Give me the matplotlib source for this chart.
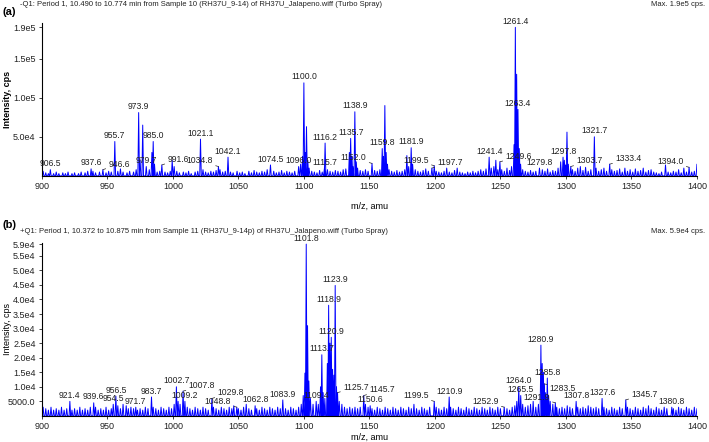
import numpy as np
import matplotlib
matplotlib.use("Agg")
import matplotlib.pyplot as plt

plt.rcParams['font.family'] = ['Liberation Sans Narrow', 'Liberation Sans', 'DejaVu Sans']

# ---- panel (a) ----
header_a = "-Q1: Period 1, 10.490 to 10.774 min from Sample 10 (RH37U_9-14) of RH37U_Jalapeno.wiff (Turbo Spray)"
max_a = "Max. 1.9e5 cps."
# peak m/z and intensity (x1000 cps)
mz_a = [901, 903, 905, 906.5, 909, 911, 913, 916, 918, 920, 923, 925, 928, 930, 933, 935,
        937.6, 939, 941, 944, 946.6, 949, 951, 953, 955.7, 958, 960, 962, 965, 967, 970, 972,
        973.9, 975, 977, 979.7, 982, 984, 985.0, 986, 988, 990, 991.6, 994, 996, 998, 999.5,
        1001, 1003, 1005, 1008, 1010, 1012, 1014, 1017, 1019, 1021.1, 1023, 1025, 1027, 1029,
        1031, 1033, 1034.8, 1036, 1038, 1040, 1042.1, 1044, 1046, 1049, 1051, 1053, 1055, 1058,
        1060, 1062, 1064, 1066, 1068, 1070, 1072, 1074.5, 1077, 1079, 1081, 1083, 1085, 1087,
        1089, 1091, 1093, 1096.0, 1097.5, 1099, 1100.0, 1101, 1102, 1103, 1104, 1106, 1108, 1110,
        1112, 1114, 1115.7, 1116.2, 1118, 1120, 1122, 1124, 1126, 1128, 1130, 1132, 1134.7,
        1135.7, 1136.7, 1137.5, 1138.9, 1140, 1141, 1143, 1145, 1147, 1149, 1152.0, 1154, 1156,
        1158, 1159.8, 1160.8, 1161.8, 1162.8, 1163.8, 1165, 1167, 1169, 1171, 1173, 1175, 1177,
        1178.6, 1180, 1181.9, 1183, 1185, 1187, 1189, 1191, 1193, 1195, 1197.7, 1199.5, 1201,
        1203, 1205, 1207, 1209, 1211, 1213, 1215, 1217, 1219, 1221, 1223, 1225, 1227, 1229, 1231,
        1233, 1235, 1237, 1239, 1241.4, 1243, 1245, 1246.5, 1248, 1249.6, 1251, 1253, 1255, 1257,
        1258.5, 1260.4, 1261.4, 1262.4, 1263.4, 1264.4, 1265.4, 1267, 1269, 1271, 1273, 1275,
        1277, 1279.8, 1282, 1284, 1286, 1288, 1290, 1292, 1294, 1296, 1297.8, 1298.8, 1299.8,
        1300.8, 1301.8, 1303.7, 1305, 1307, 1309, 1311, 1313, 1315, 1317, 1319, 1321.7, 1323,
        1325, 1327, 1329, 1331, 1333.4, 1335, 1337, 1339, 1341, 1343, 1345, 1347, 1349, 1351,
        1353, 1355, 1357, 1359, 1361, 1363, 1365, 1367, 1369, 1371, 1373, 1376, 1378, 1380, 1382,
        1384, 1386, 1388, 1390, 1392, 1394.0, 1396, 1398, 1400]
int_a = [6, 4, 3, 8, 3, 5, 3, 4, 3, 5, 3, 4, 3, 5, 4, 6,
         9, 6, 4, 5, 8, 4, 6, 5, 44, 6, 9, 5, 4, 6, 5, 8,
         81, 20, 65, 12, 8, 30, 44, 15, 5, 6, 14, 5, 4, 6, 20,
         12, 6, 4, 5, 4, 6, 3, 5, 6, 47, 8, 5, 4, 6,
         5, 7, 12, 8, 5, 6, 24, 5, 4, 6, 4, 5, 3, 6,
         4, 7, 5, 4, 6, 5, 8, 14, 6, 4, 5, 7, 4, 6,
         5, 4, 6, 12, 15, 25, 119, 30, 63, 20, 10, 6, 5, 4,
         7, 5, 10, 42, 8, 6, 5, 7, 6, 5, 8, 9, 30,
         48, 25, 12, 82, 18, 10, 7, 6, 8, 6, 16, 7, 6,
         8, 35, 25, 90, 30, 15, 8, 6, 5, 7, 5, 6, 8,
         26, 12, 36, 15, 8, 6, 5, 7, 9, 6, 10, 13, 6,
         5, 4, 6, 10, 5, 4, 7, 10, 5, 4, 3, 5, 4, 6, 4,
         6, 8, 6, 9, 24, 10, 12, 20, 8, 18, 8, 6, 10, 7,
         12, 40, 190, 130, 85, 35, 15, 8, 6, 5, 7, 5,
         6, 10, 8, 6, 9, 5, 7, 6, 10, 18, 24, 20, 14,
         56, 15, 12, 8, 6, 10, 12, 7, 11, 6, 8, 50, 10,
         6, 8, 10, 6, 15, 8, 6, 7, 9, 5, 10, 6, 8, 5,
         9, 6, 7, 10, 5, 7, 8, 5, 4, 3, 5, 14, 5, 4, 6,
         5, 8, 4, 10, 5, 11, 5, 6, 15]
labels_a = [906.5, 937.6, 946.6, 955.7, 973.9, 979.7, 985.0, 991.6, 1021.1, 1034.8, 1042.1,
            1074.5, 1096.0, 1100.0, 1115.7, 1116.2, 1135.7, 1138.9, 1152.0, 1159.8, 1181.9,
            1197.7, 1199.5, 1241.4, 1249.6, 1261.4, 1263.4, 1279.8, 1297.8, 1303.7, 1321.7,
            1333.4, 1394.0]
conn_a = {946.6: 'r', 991.6: 'r', 1034.8: 'l', 1152.0: 'l', 1197.7: 'r', 1199.5: 'l',
          1249.6: 'r', 1303.7: 'r', 1333.4: 'r', 1394.0: 'l'}
yticks_a = [5.0e4, 1.0e5, 1.5e5, 1.9e5]
yticklabels_a = ['5.0e4', '1.0e5', '1.5e5', '1.9e5']

# ---- panel (b) ----
header_b = "+Q1: Period 1, 10.372 to 10.875 min from Sample 11 (RH37U_9-14p) of RH37U_Jalapeno.wiff (Turbo Spray)"
max_b = "Max. 5.9e4 cps."
mz_b = [901, 903, 905, 907, 909, 911, 913, 915, 917, 919, 921.4, 923, 925, 927, 929, 931, 933,
        935, 937, 939.6, 941, 943, 945, 947, 949, 951, 953, 954.5, 956.5, 958, 960, 962, 964.4,
        966, 968, 970, 971.7, 973, 975, 977, 979, 981, 983.7, 985, 987, 989, 991, 993, 995, 997,
        999, 1001, 1002.7, 1004, 1005.5, 1007.8, 1009.2, 1011, 1013, 1015, 1017, 1019, 1021, 1023,
        1025, 1027, 1029.8, 1031, 1033, 1035, 1037, 1039, 1041, 1043, 1045, 1046.5, 1048.8, 1050,
        1052, 1054, 1056, 1058, 1060, 1062.8, 1064, 1066, 1068, 1070, 1072, 1074, 1076, 1078,
        1080, 1082, 1083.9, 1086, 1088, 1090, 1092, 1094, 1096, 1098, 1099.5, 1100.8, 1101.8,
        1102.8, 1103.8, 1105, 1107, 1109.4, 1111, 1112.7, 1113.7, 1114.7, 1116, 1117.9, 1118.9,
        1119.9, 1120.9, 1121.9, 1122.9, 1123.9, 1124.9, 1125.7, 1127, 1129, 1131, 1133, 1135,
        1137, 1139, 1141, 1143, 1145.7, 1147, 1149, 1150.6, 1152, 1154, 1156, 1158, 1160, 1162,
        1164, 1166, 1168, 1170, 1172, 1174, 1176, 1178, 1180, 1182, 1184, 1186, 1188, 1190, 1192,
        1194, 1196, 1199.5, 1201, 1203, 1205, 1207, 1209, 1210.9, 1212, 1214, 1216, 1218, 1220,
        1222, 1224, 1226, 1228, 1230, 1232, 1234, 1236, 1238, 1240, 1242, 1244, 1246, 1248, 1250,
        1252.9, 1255, 1257, 1259, 1261, 1262.5, 1264.0, 1265.5, 1267, 1269, 1271, 1273, 1275,
        1277, 1279, 1280.9, 1281.9, 1282.8, 1283.5, 1284.5, 1285.8, 1286.8, 1288, 1290, 1291.9,
        1293, 1295, 1297, 1299, 1301, 1303, 1305, 1307.8, 1309, 1311, 1313, 1315, 1317, 1319,
        1321, 1323, 1325, 1327.6, 1329, 1331, 1333, 1335, 1337, 1339, 1341, 1343, 1345.7, 1347,
        1349, 1351, 1353, 1355, 1357, 1359, 1361, 1363, 1365, 1367, 1369, 1371, 1373, 1375, 1377,
        1380.8, 1382, 1384, 1386, 1388, 1390, 1392, 1394, 1396, 1398, 1400]
int_b = [3, 2.5, 2, 3, 2, 2.5, 2, 3, 2, 2.5, 5, 2, 2.5, 2, 3, 2, 2.5,
         2, 3, 4.5, 3, 2, 2.5, 2, 3, 2, 2.5, 4, 6.8, 3.5, 2.5, 4, 3.5,
         2.5, 3, 2.5, 3, 2, 2.5, 2, 3, 2.5, 6.5, 3, 2.5, 2, 3, 2.5, 2, 3,
         2.5, 4, 10, 5, 4, 8.5, 5, 3, 2.5, 2, 3, 2.5, 2, 3,
         2.5, 2, 6, 3, 2.5, 2, 3, 2.5, 2, 3, 2.5, 3.5, 3, 2.5,
         2, 3, 4, 2.5, 2, 3.5, 2.5, 2, 3, 2.5, 2, 3, 2.5, 2,
         3, 2.5, 5.5, 2.5, 2, 3, 2.5, 2, 3, 4, 7, 14.7, 59,
         31, 12, 6, 4, 5, 4, 10, 21, 8, 6, 18, 38,
         25, 27, 16, 14, 44.8, 10, 8, 5, 4, 3, 2.5, 3,
         2.5, 3, 2.5, 3, 7, 4, 3, 3.5, 2.5, 2, 3, 2.5, 2, 3,
         2.5, 2, 3, 2.5, 2, 3, 2.5, 2, 3, 2.5, 4, 2.5, 2, 3, 2.5,
         2, 3, 5, 3, 2.5, 2, 3, 2.5, 6.5, 3, 2.5, 2, 3, 2.5,
         2, 3, 2.5, 2, 3, 2.5, 2, 3, 2.5, 2, 3, 2.5, 2, 3, 2.5,
         3, 2.5, 2, 3, 3.5, 5, 10, 7, 4, 3, 3.5, 4, 5,
         3, 4, 24.3, 18, 15, 11, 8, 13, 7, 5, 4, 4.5,
         3, 2.5, 3, 2.5, 3.5, 3, 2.5, 5, 3, 2.5, 3, 2.5, 3.5, 3,
         2.5, 3, 2.5, 6, 3, 2.5, 2, 3, 2.5, 2, 3, 2.5, 5.5, 3,
         2.5, 2, 3, 2.5, 2, 3, 2.5, 3.5, 2.5, 2, 3, 2.5, 2, 3, 2.5,
         3, 2.5, 2, 3, 2.5, 2, 3, 2.5, 2, 3, 2.5]
labels_b = [921.4, 939.6, 954.5, 956.5, 971.7, 983.7, 1002.7, 1007.8, 1009.2, 1029.8, 1048.8,
            1062.8, 1083.9, 1101.8, 1109.4, 1113.7, 1118.9, 1120.9, 1123.9, 1125.7, 1145.7,
            1150.6, 1199.5, 1210.9, 1252.9, 1264.0, 1265.5, 1280.9, 1283.5, 1285.8, 1291.9,
            1307.8, 1327.6, 1345.7, 1380.8]
conn_b = {1007.8: 'r', 1029.8: 'r', 1048.8: 'l', 1125.7: 'r', 1145.7: 'r', 1199.5: 'l',
          1252.9: 'l', 1283.5: 'r', 1291.9: 'l', 1345.7: 'r'}
# vertical offset (points) for connector labels that need to sit lower
label_dy = {1283.5: -3}
yticks_b = [5000, 1.0e4, 1.5e4, 2.0e4, 2.5e4, 3.0e4, 3.5e4, 4.0e4, 4.5e4, 5.0e4, 5.5e4, 5.9e4]
yticklabels_b = ['5000.0', '1.0e4', '1.5e4', '2.0e4', '2.5e4', '3.0e4', '3.5e4', '4.0e4',
                 '4.5e4', '5.0e4', '5.5e4', '5.9e4']

xticks = [900, 950, 1000, 1050, 1100, 1150, 1200, 1250, 1300, 1350, 1400]


def profile(mz, inten, w=0.6):
    # turn peak list into a stick-like profile trace
    x, y = [], []
    for m, h in sorted(zip(mz, inten)):
        x += [m - w, m, m + w]
        y += [0, h * 1000, 0]
    return x, y


def draw_panel(ax, mz, inten, labels, conn, ytk, ytl, ytop, bold_label):
    x, y = profile(mz, inten)
    ax.plot(x, y, color='#0000ff', lw=0.7)
    ax.set_xlim(900, 1400)
    ax.set_ylim(0, ytop)
    ax.set_xticks(xticks)
    ax.set_yticks(ytk)
    ax.set_yticklabels(ytl)
    ax.tick_params(labelsize=6.5, length=2.5, width=0.6, pad=2, colors='#222222')
    for s in ['top', 'right']:
        ax.spines[s].set_visible(False)
    for s in ['left', 'bottom']:
        ax.spines[s].set_linewidth(0.8)
    ax.set_ylabel('Intensity, cps', fontsize=6.5,
                  fontweight='bold' if bold_label else 'normal')
    ax.yaxis.set_label_coords(-0.045, 0.5)
    ax.set_xlabel('m/z, amu', fontsize=6.5)

    lookup = dict(zip(mz, inten))
    for m in labels:
        h = lookup[m] * 1000
        txt = f"{m:.1f}"
        side = conn.get(m)
        if side is None:
            ax.annotate(txt, (m, h), xytext=(0, 1), textcoords='offset points',
                        ha='center', va='bottom', fontsize=6.2, color='#222222')
        else:
            dx = -4 if side == 'l' else 4
            ax.annotate(txt, (m, h), xytext=(dx, label_dy.get(m, 4)),
                        textcoords='offset points',
                        ha='right' if side == 'l' else 'left', va='center',
                        fontsize=6.2, color='#222222',
                        arrowprops=dict(arrowstyle='-', lw=0.5, color='#222222',
                                        shrinkA=0, shrinkB=0))


fig = plt.figure(figsize=(7.09, 4.42), dpi=100)
ax_a = fig.add_axes([0.059, 0.602, 0.924, 0.345])
ax_b = fig.add_axes([0.059, 0.059, 0.924, 0.392])

draw_panel(ax_a, mz_a, int_a, labels_a, conn_a, yticks_a, yticklabels_a, 1.95e5, True)
ax_a.xaxis.set_label_coords(0.5, -0.17)
draw_panel(ax_b, mz_b, int_b, labels_b, conn_b, yticks_b, yticklabels_b, 5.95e4, False)
ax_b.xaxis.set_label_coords(0.5, -0.1)

fig.text(0.004, 0.973, '(a)', fontsize=8, fontweight='bold', va='center')
fig.text(0.028, 0.989, header_a, fontsize=5.5, va='center', color='#222222')
fig.text(0.995, 0.989, max_a, fontsize=5.5, va='center', ha='right', color='#222222')
fig.text(0.004, 0.491, '(b)', fontsize=8, fontweight='bold', va='center')
fig.text(0.028, 0.477, header_b, fontsize=5.5, va='center', color='#222222')
fig.text(0.995, 0.477, max_b, fontsize=5.5, va='center', ha='right', color='#222222')

fig.savefig('out.png', dpi=100)
